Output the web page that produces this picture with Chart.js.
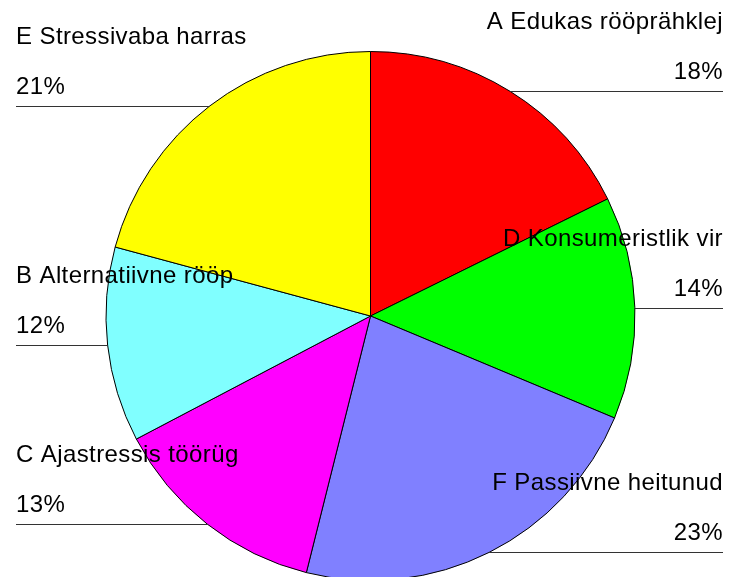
<!DOCTYPE html>
<html>
<head>
<meta charset="utf-8">
<script src="https://cdn.jsdelivr.net/npm/chart.js@4"></script>
<style>
  html, body { margin: 0; padding: 0; background: #fff; overflow: hidden; }
  #wrap { position: relative; width: 730px; height: 582px; }
</style>
</head>
<body>
<div id="wrap"><canvas id="pie"></canvas></div>
<script>
// slices clockwise from 12 o'clock
const labels = ['A Edukas rööprähklej', 'D Konsumeristlik vir', 'F Passiivne heitunud',
  'C Ajastressis töörüg', 'B Alternatiivne rööp', 'E Stressivaba harras'];
const values = [17.7, 13.6, 22.6, 13.4, 11.9, 20.8];
const colors = ['#ff0000', '#00ff00', '#8080ff', '#ff00ff', '#80ffff', '#ffff00'];

// labels with a leader line at the slice's middle
const labelLines = {
  id: 'labelLines',
  afterDraw(chart) {
    const ctx = chart.ctx;
    const arcs = chart.getDatasetMeta(0).data;
    const total = values.reduce((a, b) => a + b, 0);
    ctx.save();
    ctx.font = '24px "Liberation Sans", Arial, sans-serif';
    if ('letterSpacing' in ctx) ctx.letterSpacing = '0.4px';
    ctx.fillStyle = '#000';
    ctx.strokeStyle = '#333';
    ctx.lineWidth = 1;
    arcs.forEach((arc, i) => {
      const p = arc.getProps(['x', 'y', 'startAngle', 'endAngle', 'outerRadius'], true);
      const mid = (p.startAngle + p.endAngle) / 2;
      const px = p.x + p.outerRadius * Math.cos(mid);
      const py = Math.round(p.y + p.outerRadius * Math.sin(mid)) + 0.5;
      const right = Math.cos(mid) >= 0;
      const edge = right ? 723 : 16;
      ctx.beginPath();
      ctx.moveTo(px, py);
      ctx.lineTo(edge, py);
      ctx.stroke();
      ctx.textAlign = right ? 'right' : 'left';
      ctx.textBaseline = 'alphabetic';
      const pct = Math.round(values[i] / total * 100) + '%';
      ctx.fillText(labels[i], edge, py - 63);
      ctx.fillText(pct, edge, py - 13);
    });
    ctx.restore();
  }
};

new Chart(document.getElementById('pie'), {
  type: 'pie',
  data: {
    labels: labels,
    datasets: [{
      data: values,
      backgroundColor: colors,
      borderColor: '#000',
      borderWidth: 1
    }]
  },
  options: {
    responsive: true,
    maintainAspectRatio: false,
    animation: false,
    layout: { padding: { top: 51, bottom: 1, left: 105, right: 94 } },
    plugins: {
      legend: { display: false },
      tooltip: { enabled: false }
    }
  },
  plugins: [labelLines]
});
</script>
</body>
</html>
